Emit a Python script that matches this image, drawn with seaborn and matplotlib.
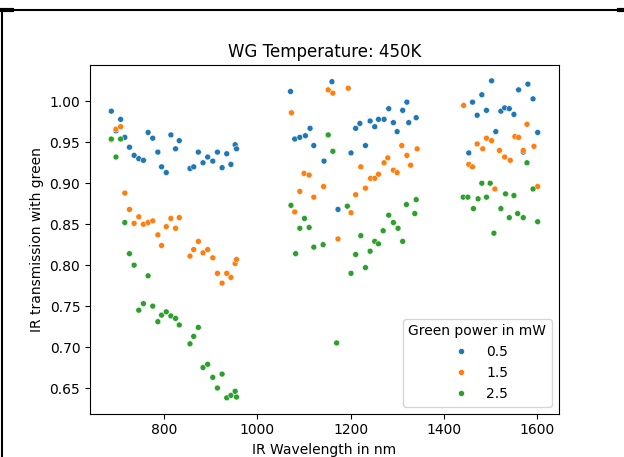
import numpy as np
import pandas as pd
import matplotlib
matplotlib.use("Agg")
import matplotlib.pyplot as plt
import seaborn as sns
from matplotlib.lines import Line2D

# ---- data -------------------------------------------------------------
wl_05 = [686, 696, 706, 715, 725, 735, 745, 755, 765, 775, 786, 794, 804, 814,
         824, 832, 855, 863, 873, 883, 893, 904, 914, 924, 934, 943, 952, 955,
         1071, 1080, 1091, 1103, 1113, 1121, 1143, 1160, 1173, 1201, 1211, 1220,
         1232, 1242, 1252, 1260, 1272, 1282, 1292, 1300, 1312, 1321, 1325, 1341,
         1454, 1462, 1472, 1482, 1492, 1503, 1512, 1523, 1531, 1541, 1551, 1561,
         1571, 1581, 1592, 1602]
tr_05 = [0.988, 0.964, 0.978, 0.956, 0.944, 0.934, 0.930, 0.928, 0.962, 0.955,
         0.938, 0.920, 0.913, 0.959, 0.942, 0.952, 0.918, 0.920, 0.938, 0.925,
         0.932, 0.927, 0.938, 0.919, 0.936, 0.923, 0.947, 0.942,
         1.012, 0.954, 0.956, 0.958, 0.967, 0.946, 0.927, 1.024, 0.868, 0.937,
         0.967, 0.973, 0.946, 0.976, 0.969, 0.978, 0.978, 0.991, 0.974, 0.963,
         0.989, 0.999, 0.974, 0.980,
         0.937, 0.999, 0.983, 1.008, 0.989, 1.025, 0.963, 0.988, 0.992, 0.991,
         0.984, 1.014, 0.938, 1.021, 1.003, 0.962]

wl_15 = [686, 696, 706, 715, 725, 735, 745, 755, 765, 775, 786, 794, 804, 814,
         824, 832, 855, 863, 873, 883, 893, 904, 914, 924, 934, 943, 952, 955,
         1073, 1080, 1091, 1100, 1111, 1121, 1142, 1152, 1162, 1173, 1195, 1201,
         1211, 1222, 1232, 1243, 1252, 1260, 1272, 1280, 1292, 1300, 1310, 1321,
         1329, 1343,
         1443, 1454, 1462, 1472, 1484, 1492, 1503, 1510, 1520, 1531, 1543, 1553,
         1561, 1571, 1579, 1594, 1602]
tr_15 = [0.953, 0.966, 0.969, 0.888, 0.868, 0.851, 0.859, 0.850, 0.852, 0.854,
         0.837, 0.824, 0.847, 0.857, 0.845, 0.858, 0.811, 0.819, 0.829, 0.815,
         0.819, 0.809, 0.790, 0.778, 0.790, 0.785, 0.802, 0.807,
         0.986, 0.865, 0.890, 0.912, 0.910, 0.883, 0.896, 1.014, 1.010, 0.832,
         1.016, 0.864, 0.886, 0.920, 0.894, 0.906, 0.906, 0.911, 0.925, 0.931,
         0.916, 0.913, 0.946, 0.934, 0.922, 0.942,
         0.995, 0.923, 0.920, 0.948, 0.942, 0.955, 0.952, 0.893, 0.940, 0.932,
         0.928, 0.957, 0.956, 0.940, 0.972, 0.945, 0.896]

wl_25 = [686, 696, 706, 715, 725, 735, 745, 755, 765, 775, 786, 794, 804, 814,
         824, 832, 855, 863, 873, 883, 893, 904, 914, 924, 934, 943, 952, 955,
         1072, 1082, 1091, 1101, 1111, 1121, 1141, 1152, 1162, 1170, 1193, 1201,
         1211, 1222, 1232, 1242, 1252, 1260, 1270, 1282, 1292, 1302, 1312, 1320,
         1338, 1341,
         1442, 1452, 1464, 1474, 1482, 1492, 1500, 1508, 1523, 1533, 1541, 1551,
         1559, 1571, 1579, 1592, 1602]
tr_25 = [0.954, 0.932, 0.954, 0.852, 0.814, 0.800, 0.745, 0.753, 0.787, 0.750,
         0.731, 0.739, 0.743, 0.738, 0.735, 0.727, 0.704, 0.713, 0.724, 0.675,
         0.679, 0.663, 0.650, 0.667, 0.638, 0.641, 0.646, 0.639,
         0.873, 0.814, 0.845, 0.857, 0.846, 0.822, 0.825, 0.959, 0.939, 0.705,
         0.872, 0.790, 0.813, 0.836, 0.797, 0.817, 0.829, 0.826, 0.842, 0.861,
         0.852, 0.845, 0.829, 0.874, 0.863, 0.880,
         0.883, 0.883, 0.869, 0.881, 0.900, 0.883, 0.900, 0.839, 0.869, 0.887,
         0.858, 0.885, 0.863, 0.858, 0.925, 0.893, 0.853]

powers = ["0.5", "1.5", "2.5"]
colors = ["#1f77b4", "#ff7f0e", "#2ca02c"]

# ---- frame --------------------------------------------------------------
df = pd.concat([
    pd.DataFrame({"wl": wl_05, "tr": tr_05, "power": powers[0]}),
    pd.DataFrame({"wl": wl_15, "tr": tr_15, "power": powers[1]}),
    pd.DataFrame({"wl": wl_25, "tr": tr_25, "power": powers[2]}),
], ignore_index=True)

fig = plt.figure(figsize=(6.24, 4.57), dpi=100)
ax = fig.add_axes([90 / 624, 1 - 413.7 / 457, (559 - 90) / 624, (413.7 - 65) / 457])

sns.scatterplot(data=df, x="wl", y="tr", hue="power", hue_order=powers,
                palette=colors, s=18, ax=ax, legend=False)

ax.set_title("WG Temperature: 450K", fontsize=12)
ax.set_xlabel("IR Wavelength in nm")
ax.set_ylabel("IR transmission with green")
ax.set_xticks([800, 1000, 1200, 1400, 1600])
ax.set_yticks([0.65, 0.70, 0.75, 0.80, 0.85, 0.90, 0.95, 1.00])

handles = [Line2D([], [], marker="o", linestyle="", color=c, markeredgecolor="white",
                  markeredgewidth=0.5, markersize=4.5) for c in colors]
ax.legend(handles, powers, title="Green power in mW", loc="lower right")

# notebook-like frame lines around the figure
ytop = 1 - 9.5 / 457
fig.add_artist(Line2D([0, 1], [ytop, ytop], transform=fig.transFigure,
                      color="black", lw=1.5))
fig.add_artist(Line2D([0, 12 / 624], [ytop, ytop], transform=fig.transFigure,
                      color="black", lw=3))
fig.add_artist(Line2D([619 / 624, 1], [ytop, ytop], transform=fig.transFigure,
                      color="black", lw=3))
fig.add_artist(Line2D([1.5 / 624, 1.5 / 624], [0, ytop], transform=fig.transFigure,
                      color="black", lw=1.5))

fig.savefig("out.png", dpi=100)
